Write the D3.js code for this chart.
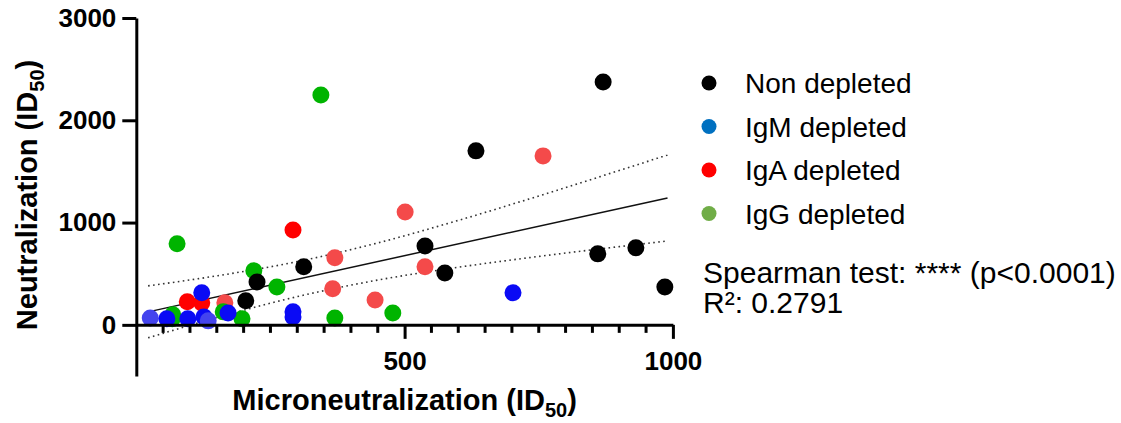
<!DOCTYPE html>
<html>
<head>
<meta charset="utf-8">
<script src="https://cdn.jsdelivr.net/npm/d3@7"></script>
<style>
  body { margin: 0; background: #fff; }
  text { font-family: "Liberation Sans", Arial, sans-serif; }
</style>
</head>
<body>
<svg id="chart"></svg>
<script>
// Values
var nonX = [204, 225, 312, 538, 575, 633, 860, 870, 931, 985];
var nonY = [235, 420, 567, 772, 508, 1701, 694, 2375, 753, 371];

var igmX = [26, 57, 96, 122, 126, 134, 171, 292, 292, 702];
var igmY = [68, 59, 59, 313, 78, 39, 117, 127, 78, 313];
var igmTone = [1, 0, 0, 0, 0, 1, 0, 0, 0, 0];

var igaX = [95, 122, 292, 165, 370, 366, 445, 501, 538, 758];
var igaY = [225, 215, 928, 215, 655, 352, 244, 1104, 567, 1652];
var igaTone = [0, 0, 0, 1, 1, 1, 1, 1, 1, 1];

var iggX = [76, 344, 370, 478, 219, 262, 197, 162, 68, 67];
var iggY = [792, 2248, 68, 117, 528, 371, 59, 127, 98, 59];

// fitted line and its 95% band
var fitX = [22, 990];
var fitY = [127, 1240];
var bandX = [22, 150, 300, 450, 600, 750, 900, 990];
var bandUpper = [381, 479, 618, 801, 1021, 1260, 1509, 1661];
var bandLower = [-127, 71, 276, 438, 563, 669, 765, 820];

var legendNames = ["Non depleted", "IgM depleted", "IgA depleted", "IgG depleted"];
var legendColors = ["#000000", "#0070c0", "#ff0000", "#70ad47"];
var statLines = ["Spearman test: **** (p<0.0001)", "R\u00b2: 0.2791"];

var xTicks = [500, 1000];
var yTicks = [0, 1000, 2000, 3000];

var width = 1121, height = 423;
var svg = d3.select("#chart").attr("width", width).attr("height", height);

var x = d3.scaleLinear().domain([0, 1000]).range([136.3, 672.9]);
var y = d3.scaleLinear().domain([-500, 3000]).range([376, 18]);

// ---- regression line and band
var line = d3.line()
    .x(function(d) { return x(d[0]); })
    .y(function(d) { return y(d[1]); });
var bandLine = d3.line()
    .x(function(d) { return x(d[0]); })
    .y(function(d) { return y(d[1]); })
    .curve(d3.curveMonotoneX);

svg.append("path")
    .datum(d3.zip(fitX, fitY))
    .attr("d", line)
    .attr("fill", "none")
    .attr("stroke", "#111")
    .attr("stroke-width", 1.5);

[bandUpper, bandLower].forEach(function(b) {
  svg.append("path")
      .datum(d3.zip(bandX, b))
      .attr("d", bandLine)
      .attr("fill", "none")
      .attr("stroke", "#333")
      .attr("stroke-width", 1.6)
      .attr("stroke-dasharray", "1.6,3.4");
});

// ---- points
function drawSeries(xs, ys, col, tones, light) {
  svg.append("g").selectAll("circle")
      .data(d3.range(xs.length))
    .enter().append("circle")
      .attr("cx", function(i) { return x(xs[i]); })
      .attr("cy", function(i) { return y(ys[i]); })
      .attr("r", 8.5)
      .attr("fill", function(i) { return tones && tones[i] ? light : col; });
}
drawSeries(igaX, igaY, "#ff0000", igaTone, "#f44a4a");
drawSeries(iggX, iggY, "#00b400");
drawSeries(igmX, igmY, "#0a0af5", igmTone, "#4444ee");
drawSeries(nonX, nonY, "#000000");

// ---- axes
var fmt = d3.format("d");
var yAxis = d3.axisLeft(y).tickValues(yTicks).tickFormat(fmt)
    .tickSize(14).tickSizeOuter(0).tickPadding(6);
var gy = svg.append("g").attr("transform", "translate(" + x(0) + ",0)").call(yAxis);
gy.select(".domain").attr("stroke-width", 3);
gy.selectAll(".tick line").attr("stroke-width", 3);
gy.selectAll(".tick text")
    .attr("font-size", 26).attr("font-weight", "bold")
    .attr("font-family", "Liberation Sans, Arial, sans-serif");

var xAxis = d3.axisBottom(x).tickValues(xTicks).tickFormat(fmt)
    .tickSize(14).tickSizeOuter(0).tickPadding(13);
var gx = svg.append("g").attr("transform", "translate(0," + y(0) + ")").call(xAxis);
gx.select(".domain").attr("stroke-width", 3);
gx.selectAll(".tick line").attr("stroke-width", 3);
gx.selectAll(".tick text")
    .attr("font-size", 26).attr("font-weight", "bold")
    .attr("font-family", "Liberation Sans, Arial, sans-serif");

// minor ticks every 50
var minor = d3.range(50, 1000, 50).filter(function(v) { return v % 500 !== 0; });
gx.selectAll("line.minor")
    .data(minor)
  .enter().append("line")
    .attr("class", "minor")
    .attr("x1", function(d) { return x(d); })
    .attr("x2", function(d) { return x(d); })
    .attr("y1", 0).attr("y2", 8)
    .attr("stroke", "#000").attr("stroke-width", 3);

// ---- axis titles
var xt = svg.append("text")
    .attr("x", x(500)).attr("y", 410)
    .attr("text-anchor", "middle")
    .attr("font-size", 29).attr("font-weight", "bold");
xt.append("tspan").text("Microneutralization (ID");
xt.append("tspan").attr("font-size", 20).attr("dy", 7).text("50");
xt.append("tspan").attr("dy", -7).text(")");

var yt = svg.append("text")
    .attr("transform", "translate(37,195) rotate(-90)")
    .attr("text-anchor", "middle")
    .attr("font-size", 29).attr("font-weight", "bold");
yt.append("tspan").text("Neutralization (ID");
yt.append("tspan").attr("font-size", 20).attr("dy", 7).text("50");
yt.append("tspan").attr("dy", -7).text(")");

// ---- legend
var leg = svg.append("g").selectAll("g")
    .data(legendNames)
  .enter().append("g")
    .attr("transform", function(d, i) { return "translate(709," + (83 + i * 43.5) + ")"; });
leg.append("circle")
    .attr("r", 7.5)
    .attr("fill", function(d, i) { return legendColors[i]; });
leg.append("text")
    .attr("x", 36).attr("y", 10)
    .attr("font-size", 28)
    .text(function(d) { return d; });

svg.selectAll("text.stat")
    .data(statLines)
  .enter().append("text")
    .attr("class", "stat")
    .attr("x", 703)
    .attr("y", function(d, i) { return 283 + i * 30; })
    .attr("font-size", 30)
    .text(function(d) { return d; });
</script>
</body>
</html>
